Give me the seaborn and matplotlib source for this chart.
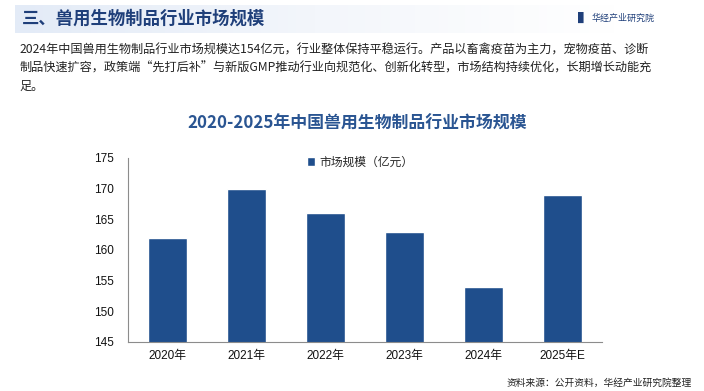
import matplotlib
matplotlib.use("Agg")
import matplotlib.pyplot as plt
import seaborn as sns
import pandas as pd
import numpy as np
from matplotlib.colors import LinearSegmentedColormap

years = ["2020年", "2021年", "2022年", "2023年", "2024年", "2025年E"]
values = [162, 170, 166, 163, 154, 169]
yticks = [145, 150, 155, 160, 165, 170, 175]
series_name = "市场规模（亿元）"

sns.set_theme(style="white")
plt.rcParams['font.family'] = ['Noto Sans CJK SC', 'DejaVu Sans']

W, H = 704, 391
fig = plt.figure(figsize=(W / 100, H / 100), dpi=100)
fig.patch.set_facecolor("white")

# header band with gradient
grad = np.linspace(0, 1, 256).reshape(1, -1)
bax = fig.add_axes([15 / W, 1 - 33 / H, 600 / W, 28 / H])
cm = LinearSegmentedColormap.from_list("g", ["#e3ebf7", "#f3f6fb", "#ffffff"])
bax.imshow(grad, aspect="auto", cmap=cm, extent=[0, 1, 0, 1])
bax.axis("off")

fig.text(22 / W, 1 - 19 / H, "三、兽用生物制品行业市场规模", fontsize=12.5, fontweight="bold",
         color="#1f3f7a", va="center", ha="left")
fig.text(578 / W, 1 - 18 / H, "▌", fontsize=8, color="#1f3f7a", va="center", ha="left")
fig.text(592 / W, 1 - 18 / H, "华经产业研究院", fontsize=6.5, color="#1f3f7a", va="center", ha="left")

para = ["2024年中国兽用生物制品行业市场规模达154亿元，行业整体保持平稳运行。产品以畜禽疫苗为主力，宠物疫苗、诊断",
        "制品快速扩容，政策端“先打后补”与新版GMP推动行业向规范化、创新化转型，市场结构持续优化，长期增长动能充",
        "足。"]
for i, line in enumerate(para):
    fig.text(19 / W, 1 - (50 + 18 * i) / H, line, fontsize=8.75, color="#222222", va="center", ha="left")

fig.text(357 / W, 1 - 124 / H, "2020-2025年中国兽用生物制品行业市场规模", fontsize=12.2,
         fontweight="bold", color="#2a5592", va="center", ha="center")

ax = fig.add_axes([128 / W, 1 - 342 / H, 474 / W, 184 / H])
ax.set_facecolor("none")
df = pd.DataFrame({"year": years, "value": values})
sns.barplot(data=df, x="year", y="value", color="#1f4e8c", width=0.5, ax=ax,
            saturation=1, label=series_name)
ax.set_ylim(145, 175)
ax.set_yticks(yticks)
ax.set_xlim(-0.5, len(years) - 0.5)
ax.set_xlabel("")
ax.set_ylabel("")
for s in ["top", "right"]:
    ax.spines[s].set_visible(False)
for s in ["left", "bottom"]:
    ax.spines[s].set_color("#8c8c8c")
    ax.spines[s].set_linewidth(0.8)
ax.set_xticks(np.arange(len(years)))
ax.set_xticklabels(years, family=["Liberation Sans", "Noto Sans CJK SC"])
ax.set_xticks(np.arange(len(years) + 1) - 0.5, minor=True)
ax.tick_params(axis="x", which="major", length=0, labelsize=8.5, pad=6)
ax.tick_params(axis="x", which="minor", length=4, color="#8c8c8c", width=0.8, direction="out")
ax.tick_params(axis="y", length=4, color="#8c8c8c", width=0.8, direction="out", labelsize=8.5, pad=6)
for lab in ax.get_yticklabels():
    lab.set_family(["Liberation Sans"])
ax.tick_params(axis="both", labelcolor="#111111")

ax.legend(loc="upper center", bbox_to_anchor=(232 / 474, 1.07), frameon=False,
          fontsize=8.5, handlelength=0.7, handleheight=0.7, handletextpad=0.4)

fig.text(692 / W, 1 - 383 / H, "资料来源：公开资料，华经产业研究院整理", fontsize=7, color="#222222",
         va="center", ha="right")

fig.savefig("out.png", dpi=100)
